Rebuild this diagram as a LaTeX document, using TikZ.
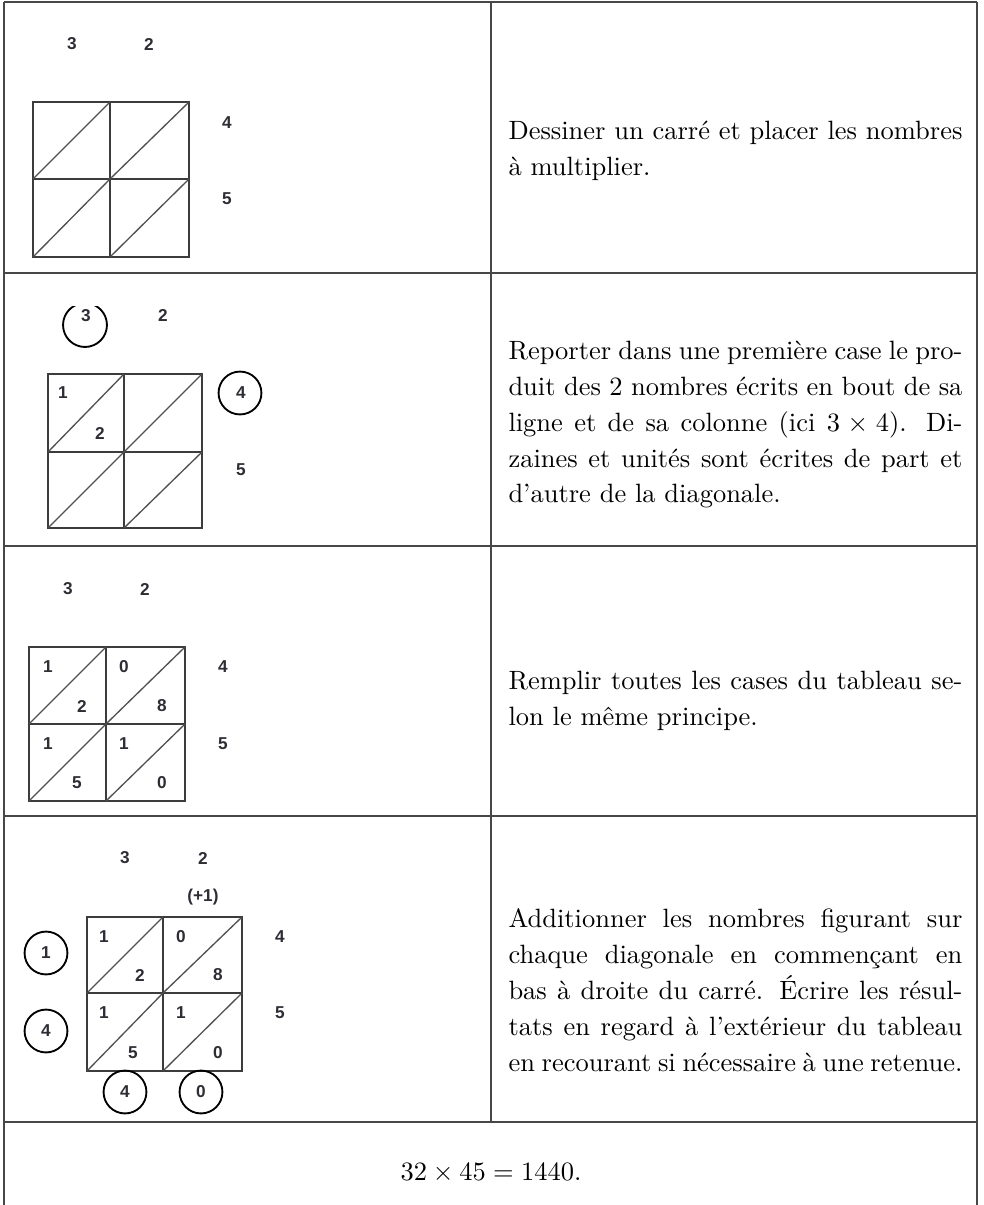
\documentclass[tikz,border=0pt]{standalone}
\usepackage{fontspec}
\newfontfamily\dig{Liberation Sans}
\definecolor{dg}{RGB}{45,45,52}
\definecolor{gl}{RGB}{60,60,60}
\tikzset{
  d/.style={font=\dig\bfseries\fontsize{6.5}{7}\selectfont, text=dg, inner sep=0pt, anchor=center},
  gridl/.style={draw=gl, line width=0.85pt},
  diag/.style={draw=gl!90, line width=0.5pt},
  ring/.style={draw=black, line width=0.7pt},
  tline/.style={draw=black!72, line width=0.55pt},
  para/.style={font=\fontsize{10}{13.6}\selectfont, text width=171.5pt, align=justify, inner sep=0pt, anchor=base west},
}
\newcommand{\latgrid}[6]{%
  \draw[gridl] (#1,#4) rectangle (#3,#6);
  \draw[gridl] (#2,#4) -- (#2,#6) (#1,#5) -- (#3,#5);
  \draw[diag] (#1,#5) -- (#2,#4) (#2,#5) -- (#3,#4) (#1,#6) -- (#2,#5) (#2,#6) -- (#3,#5);}
\begin{document}
\begin{tikzpicture}[x=0.3778pt,y=-0.3778pt]
\useasboundingbox (0,0) rectangle (983,1205);
% table
\draw[tline] (4,2) -- (4,1205) (977,2) -- (977,1205) (491,2) -- (491,1122);
\draw[tline] (4,2) -- (977,2) (4,273) -- (977,273) (4,546) -- (977,546) (4,816) -- (977,816) (4,1122) -- (977,1122);
% row 1
\latgrid{33}{110}{189}{102}{179}{257}
\node[d] (a3) at (72,44) {3};
\node[d] (a2) at (149,44) {2};
\node[d] (a4) at (227,123) {4};
\node[d] (a5) at (227,199) {5};
\node[para] (t1) at (508,139) {Dessiner un carré et placer les nombres\linebreak à multiplier.};
% row 2
\latgrid{48}{124}{202}{374}{452}{528}
\begin{scope}
  \clip (50,306) rectangle (125,360);
  \draw[ring] (85,325) circle[radius=8.3pt];
\end{scope}
\node[d] (b3) at (86,316) {3};
\node[d] (b2) at (163,315) {2};
\node[d] (b4) at (241,393) {4};
\draw[ring] (240,393) circle[radius=8.1pt];
\node[d] (b5) at (241,470) {5};
\node[d] (b11) at (63,393) {1};
\node[d] (b12) at (100,433) {2};
\node[para] (t2) at (508,359) {Reporter dans une première case le pro-\linebreak duit des 2 nombres écrits en bout de sa\linebreak ligne et de sa colonne (ici $3\times 4$). Di-\linebreak zaines et unités sont écrites de part et\linebreak d'autre de la diagonale.};
% row 3
\latgrid{29}{106}{185}{647}{724}{801}
\node[d] (c3) at (68,589) {3};
\node[d] (c2) at (145,589) {2};
\node[d] (c4) at (223,667) {4};
\node[d] (c5) at (223,744) {5};
\node[d] (c11) at (48,667) {1};
\node[d] (c12) at (82,706) {2};
\node[d] (c21) at (124,667) {0};
\node[d] (c22) at (162,706) {8};
\node[d] (c31) at (48,744) {1};
\node[d] (c32) at (77,783) {5};
\node[d] (c41) at (124,744) {1};
\node[d] (c42) at (162,783) {0};
\node[para] (t3) at (508,689) {Remplir toutes les cases du tableau se-\linebreak lon le même principe.};
% row 4
\latgrid{87}{163}{242}{917}{993}{1071}
\node[d] (e3) at (125,858) {3};
\node[d] (e2) at (203,858) {2};
\node[d] (ep) at (203,897) {(+1)};
\node[d] (e4) at (280,937) {4};
\node[d] (e5) at (280,1013) {5};
\node[d] (e11) at (104,937) {1};
\node[d] (e12) at (140,975) {2};
\node[d] (e21) at (181,937) {0};
\node[d] (e22) at (218,975) {8};
\node[d] (e31) at (104,1013) {1};
\node[d] (e32) at (133,1053) {5};
\node[d] (e41) at (181,1013) {1};
\node[d] (e42) at (218,1053) {0};
\node[d, ring, circle, minimum size=16.2pt] (r1) at (46,953) {1};
\node[d, ring, circle, minimum size=16.2pt] (r2) at (46,1031) {4};
\node[d, ring, circle, minimum size=16.2pt] (r3) at (125,1092) {4};
\node[d, ring, circle, minimum size=16.2pt] (r4) at (201,1092) {0};
\node[para] (t4) at (508,927) {Additionner les nombres figurant sur\linebreak chaque diagonale en commençant en\linebreak bas à droite du carré. Écrire les résul-\linebreak tats en regard à l'extérieur du tableau\linebreak en recourant si nécessaire à une retenue.};
% row 5
\node[font=\fontsize{10}{12}\selectfont, inner sep=0pt, anchor=base] (res) at (491,1180) {$32\times 45=1440$.};
\end{tikzpicture}
\end{document}
